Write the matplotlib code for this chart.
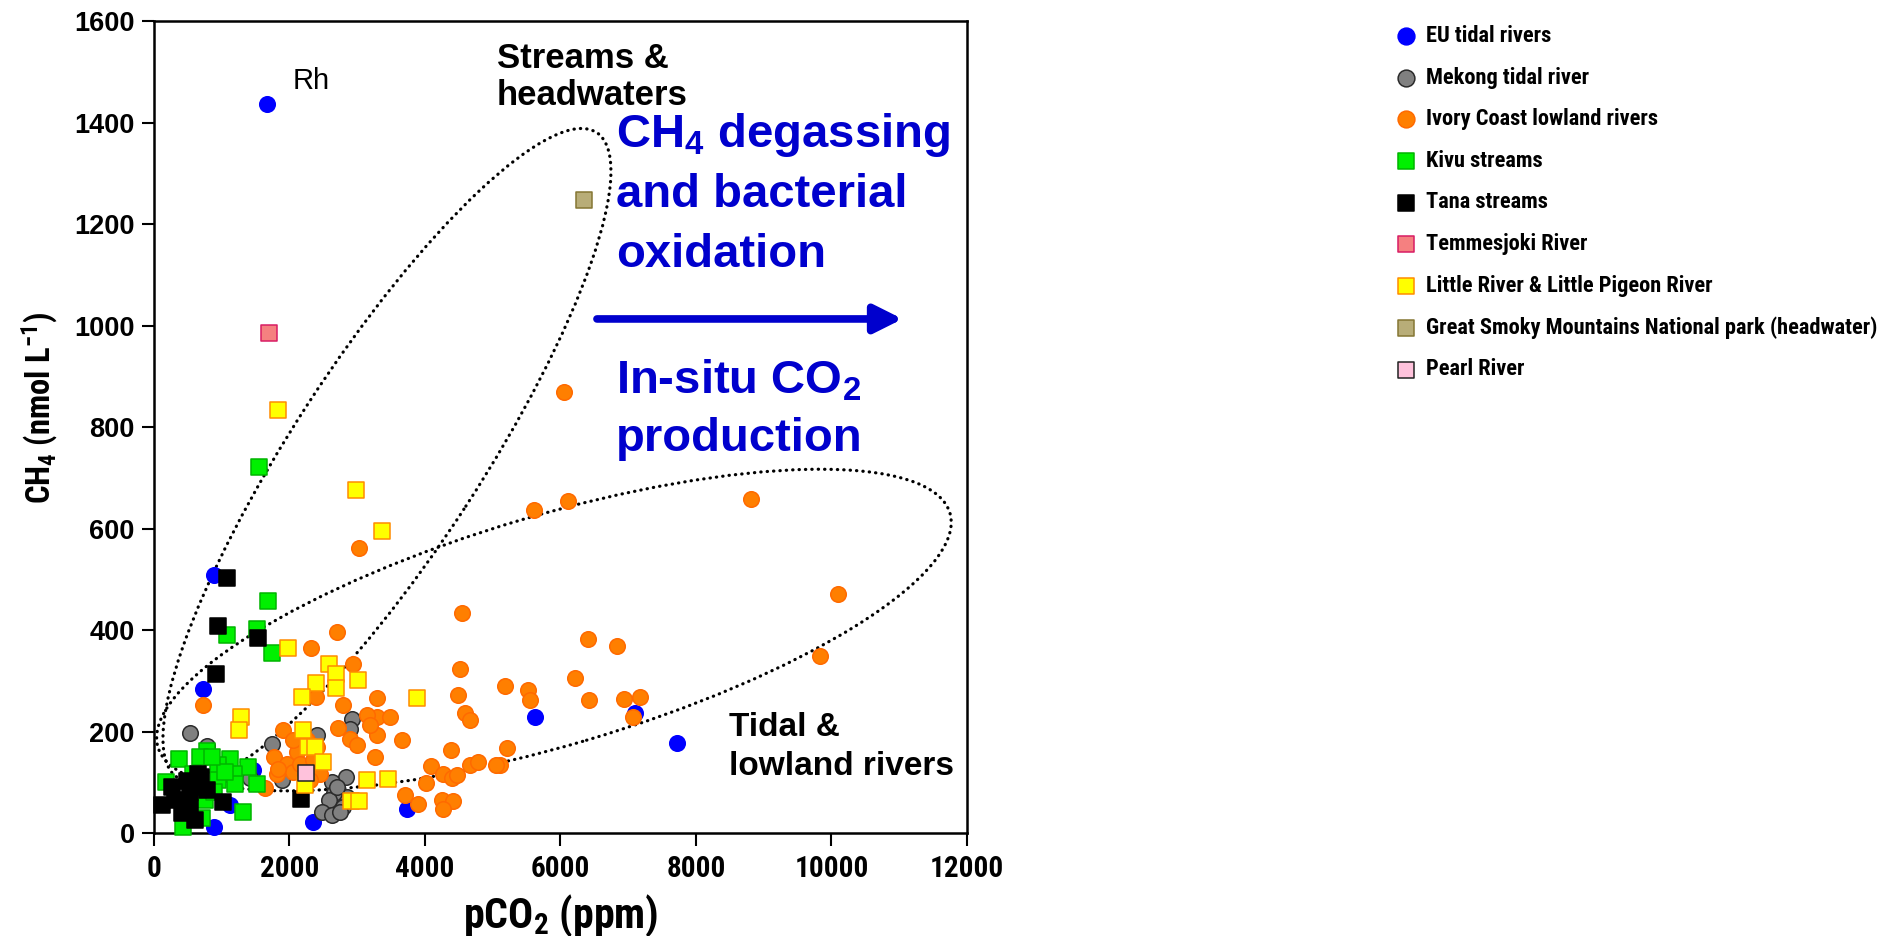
import os
import matplotlib
matplotlib.use('Agg')
import matplotlib.pyplot as plt
from matplotlib import font_manager
from matplotlib.font_manager import FontProperties
from matplotlib.patches import Ellipse

# pCO2 (ppm) and CH4 (nmol/L) for each river group
eu_x = [1669, 891, 720, 5619, 7100, 7715, 3735, 2352, 891, 1122, 1466]
eu_y = [1437, 508, 283, 229, 237, 178, 48, 22, 12, 55, 124]

mekong_x = [531, 777, 1737, 2401, 2918, 2900, 1885, 2834, 2844, 2623, 2662,
            2588, 2475, 2623, 2795, 2746, 1417, 2700]
mekong_y = [197, 172, 176, 193, 224, 205, 104, 110, 71, 101, 78,
            65, 42, 35, 52, 42, 108, 90]

ivory_x = [6050, 5614, 6116, 8806, 10101, 9830, 3021, 4541, 6401, 6828, 4517,
           5181, 5526, 5550, 6214, 6421, 6942, 7173, 7066, 4492, 4585, 4664,
           3296, 3296, 3483, 3138, 3296, 3188, 3656, 3262, 4384, 5206, 5107,
           4089, 4664, 4778, 5048, 4271, 4394, 4467, 4015, 3705, 3901, 4246,
           4418, 4271, 2316, 2697, 2943, 719, 2385, 2795, 2721, 2893, 3000,
           1909, 1771, 1811, 1958, 2106, 2057, 2254, 2401, 2450, 2303, 2057,
           2155, 2352, 1638, 1835]
ivory_y = [870, 636, 655, 659, 472, 349, 562, 434, 382, 369, 324,
           290, 282, 262, 305, 262, 265, 268, 228, 272, 236, 222,
           267, 229, 228, 232, 193, 213, 183, 150, 164, 168, 134,
           132, 134, 139, 134, 117, 108, 114, 99, 75, 57, 65,
           63, 48, 364, 396, 334, 253, 269, 252, 206, 186, 173,
           203, 150, 117, 137, 160, 183, 183, 170, 117, 104, 121,
           137, 144, 88, 127]

kivu_x = [1555, 1678, 1082, 1516, 1746, 374, 777, 679, 1122, 1392, 949, 1184,
          1516, 949, 1196, 177, 580, 753, 1318, 433, 703, 880, 1050, 850]
kivu_y = [721, 458, 390, 402, 354, 145, 162, 150, 146, 131, 135, 117,
          96, 104, 96, 101, 117, 65, 42, 12, 29, 80, 120, 150]

tana_x = [1082, 949, 1531, 915, 644, 482, 261, 679, 777, 531, 113, 310, 409,
          531, 605, 1014, 2170, 700]
tana_y = [503, 408, 385, 314, 117, 103, 91, 91, 85, 80, 55, 65, 39,
          49, 26, 62, 68, 110]

temmes_x = [1702]
temmes_y = [985]

little_x = [1835, 2982, 3361, 1978, 2588, 2686, 2391, 3006, 2686, 2180, 3877,
            1283, 1254, 2204, 2278, 2376, 2499, 2227, 3138, 3458, 2908, 3030]
little_y = [833, 676, 595, 364, 333, 314, 296, 301, 286, 269, 266,
            228, 204, 203, 170, 170, 140, 95, 104, 106, 63, 63]

smoky_x = [6350]
smoky_y = [1248]

pearl_x = [2244]
pearl_y = [118]

labels = ['EU tidal rivers', 'Mekong tidal river', 'Ivory Coast lowland rivers',
          'Kivu streams', 'Tana streams', 'Temmesjoki River',
          'Little River & Little Pigeon River',
          'Great Smoky Mountains National park (headwater)', 'Pearl River']

BASES = ['Liberation Sans', 'Arial', 'Roboto', 'Noto Sans', 'Open Sans',
         'DejaVu Sans', 'Lato', 'Inter']
WIDTH_WORDS = {'Condensed', 'Narrow', 'ExtraCondensed', 'SemiCondensed',
               'UltraCondensed', 'Extra', 'Semi', 'Ultra', 'Cond'}


def weight_of(f):
    if isinstance(f.weight, int):
        return f.weight
    return font_manager.weight_dict.get(f.weight, 400)


def plain_latin(name):
    for b in BASES:
        if name == b or name.startswith(b + ' '):
            return all(w in WIDTH_WORDS for w in name[len(b):].split())
    return False


def condensed_bold():
    fonts = font_manager.fontManager.ttflist
    for f in fonts:
        if f.name in ('Liberation Sans Narrow', 'Arial Narrow', 'Roboto Condensed') \
                and weight_of(f) == 700 and f.style == 'normal':
            return FontProperties(fname=f.fname)
    for fam in ('Noto Sans', 'Open Sans', 'Roboto', 'DejaVu Sans'):
        for f in fonts:
            low = os.path.basename(f.fname).lower()
            if f.name == fam and 'condensed' in low and weight_of(f) == 700 \
                    and not any(k in low for k in ('extra', 'semi', 'ultra', 'italic')):
                return FontProperties(fname=f.fname)
    return FontProperties(family='Liberation Sans', weight='bold')


def narrow_candidates():
    out = []
    for f in font_manager.fontManager.ttflist:
        low = os.path.basename(f.fname).lower() + ' ' + f.name.lower()
        if weight_of(f) == 700 and f.style == 'normal' and 'italic' not in low \
                and ('narrow' in low or 'condensed' in low) and plain_latin(f.name):
            out.append(FontProperties(fname=f.fname))
    return out


plt.rcParams['font.family'] = 'Liberation Sans'
plt.rcParams['mathtext.default'] = 'regular'

fig = plt.figure(figsize=(18.87, 9.36), dpi=100)
ax = fig.add_axes([0.0816, 0.1100, 0.4308, 0.8675])
renderer = fig.canvas.get_renderer()
narrow = condensed_bold()


def text_width(s, prop, size=10):
    t = fig.text(0, 0, s, fontproperties=prop, fontsize=size)
    w = t.get_window_extent(renderer).width
    t.remove()
    return w


def fit_size(s, width_px, prop=None):
    # font size that gives the string the wanted width in pixels
    prop = narrow if prop is None else prop
    return 10 * width_px / text_width(s, prop)


def text_height(prop, size):
    t = fig.text(0, 0, 'Lp', fontproperties=prop, fontsize=size)
    h = t.get_window_extent(renderer).height
    t.remove()
    return h


# legend face: the narrow bold whose proportions are closest to an
# Arial Narrow Bold (about 273 px for the longest label at 10 pt)
leg_font = narrow
best = abs(text_width(labels[7], narrow) - 273)
for cand in narrow_candidates():
    d = abs(text_width(labels[7], cand) - 273)
    if d < best:
        best, leg_font = d, cand

S = 125
series = [
    (eu_x, eu_y, 'o', '#0000ff', '#0000ff'),
    (mekong_x, mekong_y, 'o', '#808080', '#2b2b2b'),
    (ivory_x, ivory_y, 'o', '#ff7f00', '#ff6a00'),
    (kivu_x, kivu_y, 's', '#00f000', '#00b400'),
    (tana_x, tana_y, 's', '#000000', '#000000'),
    (temmes_x, temmes_y, 's', '#f58080', '#d81c64'),
    (little_x, little_y, 's', '#ffff00', '#ff8c00'),
    (smoky_x, smoky_y, 's', '#b8ad78', '#857633'),
    (pearl_x, pearl_y, 's', '#ffc2dc', '#222222'),
]
handles = []
for (xs, ys, m, fc, ec), lab in zip(series, labels):
    h = ax.scatter(xs, ys, s=S, marker=m, facecolor=fc, edgecolor=ec,
                   linewidths=1.1, clip_on=False, zorder=3, label=lab)
    handles.append(h)

ax.set_xlim(0, 12000)
ax.set_ylim(0, 1600)
ax.set_xticks(range(0, 12001, 2000))
ax.set_yticks(range(0, 1601, 200))
for sp in ax.spines.values():
    sp.set_linewidth(1.8)
ax.tick_params(direction='out', length=9, width=1.5, pad=5)
ax.tick_params(axis='x', pad=7)
for t in ax.get_yticklabels():
    t.set_fontsize(19.5)
    t.set_fontweight('bold')
xtick_size = fit_size('10000', 74)
for t in ax.get_xticklabels():
    t.set_fontproperties(narrow)
    t.set_fontsize(xtick_size)

ylab = r'CH$_4$ (nmol L$^{-1}$)'
xlab = r'pCO$_2$ (ppm)'
ax.set_ylabel(ylab, fontproperties=narrow, fontsize=fit_size(ylab, 195), va='center')
ax.yaxis.set_label_coords(-0.141, 0.523)
ax.set_xlabel(xlab, fontproperties=narrow, fontsize=fit_size(xlab, 199), va='center')
ax.xaxis.set_label_coords(0.5, -0.101)


# dotted envelopes around the two groups of rivers
def envelope(cx, cy, w, h, angle):
    ax_c = ax.transLimits.transform((cx, cy))
    e = Ellipse(ax_c, w, h, angle=angle, transform=ax.transAxes, fill=False,
                edgecolor='black', linewidth=2.3, linestyle=(0, (0.1, 1.9)),
                capstyle='round', zorder=2)
    ax.add_patch(e)


envelope(3439, 745, 0.947, 0.2315, 57)
envelope(5904, 400, 1.016, 0.283, 16.5)

ax.text(2040, 1481, 'Rh', fontsize=21, va='center', ha='left')
ax.text(5063, 1507, 'Streams &', fontsize=25, fontweight='bold', va='baseline')
ax.text(5063, 1434, 'headwaters', fontsize=25, fontweight='bold', va='baseline')
ax.text(8487, 191, 'Tidal &', fontsize=24, fontweight='bold', va='baseline')
ax.text(8487, 114, 'lowland rivers', fontsize=24, fontweight='bold', va='baseline')

blue = '#0000cd'
for txt, yb in [(r'CH$_4$ degassing', 1351), ('and bacterial', 1233),
                ('oxidation', 1115), (r'In-situ CO$_2$', 867),
                ('production', 753)]:
    ax.text(6819, yb, txt, fontsize=34, fontweight='bold', color=blue,
            va='baseline')
ax.annotate('', xy=(11050, 1013), xytext=(6539, 1013),
            arrowprops=dict(arrowstyle='-|>', lw=5.5, color=blue,
                            mutation_scale=42, shrinkA=0, shrinkB=0))

# legend: marker centres at x=1406 px, text from x=1426 px, rows 41.6 px apart
leg_size = fit_size(labels[7], 452, leg_font)
fs_px = leg_size * 100 / 72
th = text_height(leg_font, leg_size)
spacing = (41.6 - th) / fs_px
pad = 20 / fs_px - 0.4
leg_prop = leg_font.copy()
leg_prop.set_size(leg_size)
ax.legend(handles=handles, loc='upper left',
          bbox_to_anchor=((1406 - 0.4 * fs_px) / 1887, 1 - (36 - th / 2) / 936),
          bbox_transform=fig.transFigure, frameon=False, borderpad=0,
          borderaxespad=0, handlelength=0.8, handletextpad=pad,
          labelspacing=spacing, markerscale=1.08, scatterpoints=1,
          prop=leg_prop)

fig.savefig('out.png', dpi=100)
